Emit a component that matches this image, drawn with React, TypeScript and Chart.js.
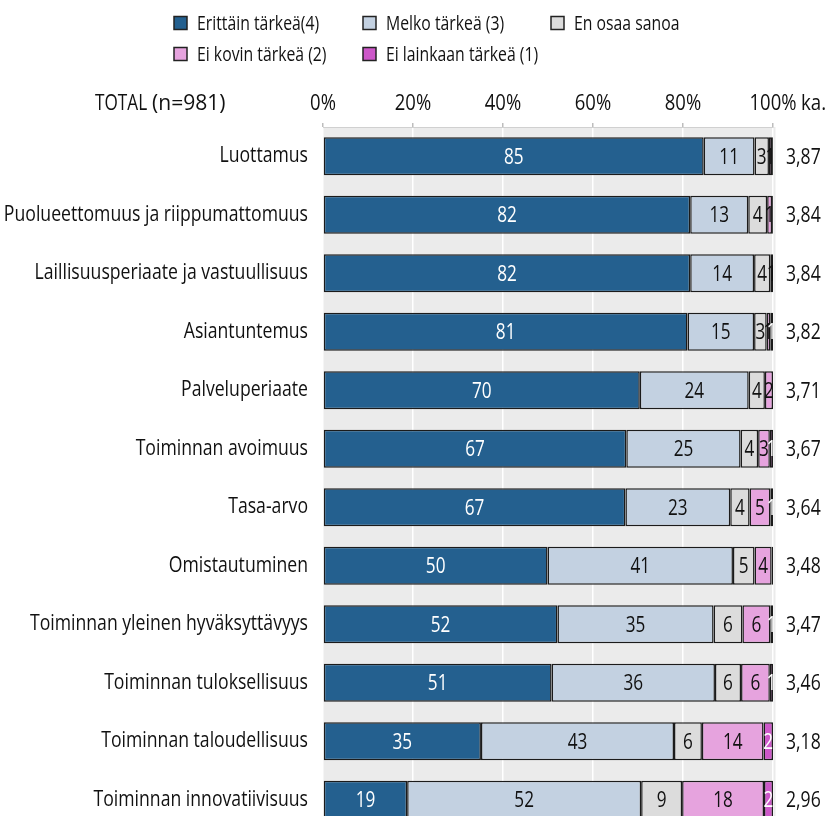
import { useEffect, useRef } from 'react';
import { Chart, registerables } from 'chart.js';

Chart.register(...registerables);

const FONT = "'Open Sans', 'Noto Sans', sans-serif";

const categories = [
  'Luottamus',
  'Puolueettomuus ja riippumattomuus',
  'Laillisuusperiaate ja vastuullisuus',
  'Asiantuntemus',
  'Palveluperiaate',
  'Toiminnan avoimuus',
  'Tasa-arvo',
  'Omistautuminen',
  'Toiminnan yleinen hyväksyttävyys',
  'Toiminnan tuloksellisuus',
  'Toiminnan taloudellisuus',
  'Toiminnan innovatiivisuus',
];

const seriesNames = [
  'Erittäin tärkeä(4)',
  'Melko tärkeä (3)',
  'En osaa sanoa',
  'Ei kovin tärkeä (2)',
  'Ei lainkaan tärkeä (1)',
];

const erittain = [84.6, 81.6, 81.6, 81.0, 70.4, 67.4, 67.2, 49.9, 52.1, 50.8, 35.1, 18.7];
const melko = [11.3, 12.9, 14.2, 14.8, 24.2, 25.4, 23.3, 41.2, 34.7, 36.3, 42.9, 52.0];
const enOsaa = [3.2, 4.2, 3.6, 2.8, 3.6, 3.9, 4.3, 4.8, 6.4, 5.8, 6.2, 9.1];
const eiKovin = [0.7, 1.1, 0.6, 0.8, 1.8, 2.6, 4.6, 3.8, 6.2, 6.4, 13.7, 18.2];
const eiLainkaan = [0.2, 0.2, 0.0, 0.6, 0.0, 0.7, 0.6, 0.3, 0.6, 0.7, 2.1, 2.0];

const means = [3.87, 3.84, 3.84, 3.82, 3.71, 3.67, 3.64, 3.48, 3.47, 3.46, 3.18, 2.96];

const xTicks = [0, 20, 40, 60, 80, 100];

const totalLabel = 'TOTAL';
const nLabel = '(n=981)';
const meanHeader = 'ka.';

const colors = ['#24608f', '#c3d1e1', '#dcdcdc', '#e6a3de', '#cd57c9'];
const labelColors = ['#ffffff', '#111111', '#111111', '#111111', '#ffffff'];

function txt(
  ctx: CanvasRenderingContext2D,
  s: string,
  x: number,
  y: number,
  align: string,
  size: number,
  color: string,
  sx = 0.78
) {
  ctx.save();
  ctx.font = `${size}px ${FONT}`;
  ctx.fillStyle = color;
  ctx.textBaseline = 'middle';
  ctx.textAlign = 'left';
  const w = ctx.measureText(s).width * sx;
  const left = align === 'left' ? x : align === 'right' ? x - w : x - w / 2;
  ctx.translate(left, y);
  ctx.scale(sx, 1);
  ctx.fillText(s, 0, 0);
  ctx.restore();
}

const panelBg = {
  id: 'panelBg',
  beforeDraw(chart: any) {
    const { ctx, chartArea: a } = chart;
    ctx.save();
    ctx.fillStyle = '#ebebeb';
    ctx.fillRect(a.left, a.top, a.right - a.left + 2.5, a.bottom - a.top);
    ctx.restore();
  },
};

const overlay = {
  id: 'overlay',
  afterDatasetsDraw(chart: any) {
    const { ctx, chartArea: a } = chart;
    chart.data.datasets.forEach((ds: any, di: number) => {
      const meta = chart.getDatasetMeta(di);
      meta.data.forEach((bar: any, i: number) => {
        const v = Math.round(ds.data[i]);
        if (v < 1) return;
        const cx = (bar.x + bar.base) / 2;
        txt(ctx, String(v), cx, bar.y + 1, 'center', 22, labelColors[di]);
      });
    });
    const meta0 = chart.getDatasetMeta(0);
    meta0.data.forEach((bar: any, i: number) => {
      txt(ctx, means[i].toFixed(2).replace('.', ','), a.right + 13, bar.y + 1, 'left', 22, '#111111', 0.8);
      txt(ctx, categories[i], 308, bar.y, 'right', 21.5, '#111111', 0.82);
    });
  },
  afterDraw(chart: any) {
    const { ctx, chartArea: a } = chart;
    const xs = chart.scales.x;
    xTicks.forEach((v) => {
      txt(ctx, `${v}%`, xs.getPixelForValue(v), 104, 'center', 22, '#111111', 0.84);
    });
    txt(ctx, totalLabel, 95, 104, 'left', 21.5, '#111111', 0.8);
    txt(ctx, nLabel, 152, 104, 'left', 21.5, '#111111', 0.98);
    txt(ctx, meanHeader, a.right + 28, 104, 'left', 22, '#111111', 0.85);

    const pos = [
      [174, 23],
      [363, 23],
      [551, 23],
      [174, 54],
      [363, 54],
    ];
    seriesNames.forEach((name, i) => {
      const [x, y] = pos[i];
      ctx.save();
      ctx.fillStyle = colors[i];
      ctx.fillRect(x, y - 6.5, 13, 13);
      ctx.strokeStyle = '#222222';
      ctx.lineWidth = 1.5;
      ctx.strokeRect(x, y - 6.5, 13, 13);
      ctx.restore();
      txt(ctx, name, x + 23, y + 1, 'left', 20.5, '#111111', 0.77);
    });
  },
};

export default function App() {
  const ref = useRef<HTMLCanvasElement | null>(null);

  useEffect(() => {
    if (!ref.current) return;
    const series = [erittain, melko, enOsaa, eiKovin, eiLainkaan];
    const chart = new Chart(ref.current, {
      type: 'bar',
      data: {
        labels: categories,
        datasets: series.map((d, i) => ({
          label: seriesNames[i],
          data: d,
          backgroundColor: colors[i],
          borderColor: '#1b1b1b',
          borderWidth: 1.5,
          borderSkipped: false,
          barPercentage: 0.65,
          categoryPercentage: 1,
        })),
      },
      options: {
        indexAxis: 'y',
        responsive: false,
        animation: false,
        layout: { padding: { left: 0, right: 62, top: 75, bottom: 1 } },
        plugins: {
          legend: { display: false },
          tooltip: { enabled: false },
        },
        scales: {
          x: {
            type: 'linear',
            position: 'top',
            stacked: true,
            min: 0,
            max: 100,
            afterBuildTicks(scale: any) {
              scale.ticks = xTicks.map((v) => ({ value: v }));
            },
            afterFit(scale: any) {
              scale.height = 52;
            },
            ticks: { display: false },
            grid: {
              color: '#ffffff',
              lineWidth: 1.5,
              tickColor: '#bdbdbd',
              tickLength: 4,
            },
            border: { display: true, color: '#d0d0d0', width: 1 },
          },
          y: {
            type: 'category',
            stacked: true,
            afterFit(scale: any) {
              scale.width = 323;
            },
            ticks: { display: false },
            grid: { display: false, drawTicks: false },
            border: { display: false },
          },
        },
      },
      plugins: [panelBg, overlay],
    } as any);
    return () => chart.destroy();
  }, []);

  return (
    <div
      style={{
        position: 'fixed',
        left: 0,
        top: 0,
        width: 835,
        height: 816,
        overflow: 'hidden',
        background: '#ffffff',
      }}
    >
      <canvas ref={ref} width={835} height={830} style={{ display: 'block', width: 835, height: 830 }} />
    </div>
  );
}
